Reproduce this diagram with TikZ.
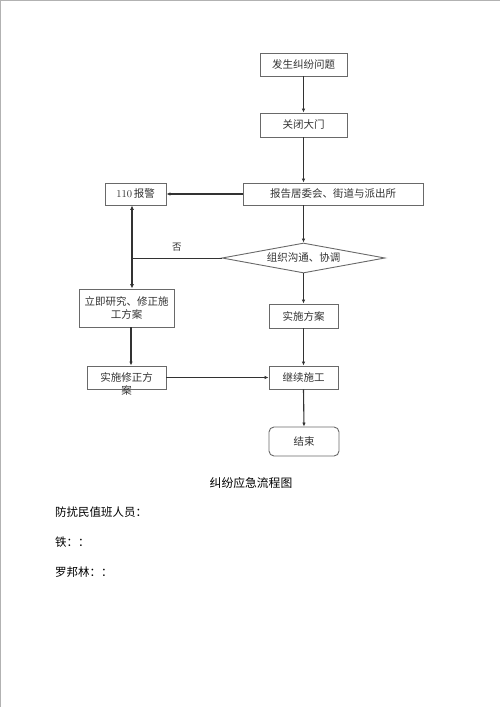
\documentclass[tikz,border=0pt]{standalone}
\usepackage{fontspec}
\usepackage{tikz}
\usetikzlibrary{shapes.geometric, arrows.meta}
\newfontfamily\cjk{Noto Sans CJK SC}
\definecolor{boxGray}{RGB}{105, 105, 105}
\definecolor{lineDark}{RGB}{50, 50, 50}

\begin{document}
\begin{tikzpicture}[x=1pt, y=-1pt,
    flowbox/.style={draw=boxGray, line width=0.9pt, inner sep=0pt, font=\cjk\fontsize{10.5}{13}\selectfont, text=lineDark},
    decision/.style={flowbox, diamond, aspect=5.4, minimum width=163pt, minimum height=30pt},
    flowarrow/.style={draw=lineDark, line width=1.1pt, -{Latex[length=4pt, width=3.5pt]}},
    notetext/.style={font=\cjk\fontsize{11.5}{14}\selectfont, inner sep=0pt, text=black}]
        \useasboundingbox (0,0) rectangle (500,707);
        \draw[gray!60, line width=1pt] (0.5,707) -- (0.5,0.5) -- (500,0.5);

        \node[flowbox, minimum width=87pt, minimum height=23pt] (fasheng) at (303.5,64.5) {发生纠纷问题};
        \node[flowbox, minimum width=87pt, minimum height=24pt] (guanbi) at (303.5,125) {关闭大门};
        \node[flowbox, minimum width=180pt, minimum height=22pt] (baogao) at (333,194) {报告居委会、街道与派出所};
        \node[flowbox, minimum width=61pt, minimum height=22pt] (baojing) at (135.5,194) {{\normalfont 110}\,报警};
        \node[decision] (zuzhi) at (303.5,258) {组织沟通、协调};
        \node[flowbox, minimum width=95pt, minimum height=38pt, align=center] (lijie) at (126.5,308) {立即研究、修正施\\工方案};
        \node[flowbox, minimum width=79pt, minimum height=23pt,
              label={[label distance=-4pt, inner sep=0pt, font=\cjk\fontsize{10.5}{13}\selectfont, text=lineDark]below:案}] (xiuzheng) at (126.5,377.5) {实施修正方};
        \node[flowbox, minimum width=69pt, minimum height=24pt] (shishi) at (303.5,316) {实施方案};
        \node[flowbox, minimum width=69pt, minimum height=23pt] (jixu) at (303.5,377.5) {继续施工};
        \node[flowbox, minimum width=70pt, minimum height=29pt, rounded corners=5pt] (jieshu) at (304,441.5) {结束};

        \coordinate (fou) at (132,258);

        \draw[flowarrow] (fasheng.south) -- (guanbi.north);
        \draw[flowarrow] (guanbi.south) -- (guanbi.south |- baogao.north);
        \draw[flowarrow] (baogao.west) -- (baojing.east);
        \draw[flowarrow] (guanbi.south |- baogao.south) -- (zuzhi.north);
        \draw[draw=lineDark, line width=0.9pt] (zuzhi.west) -- (fou)
            node[midway, above=3pt, font=\cjk\fontsize{9.5}{12}\selectfont, text=lineDark] {否};
        \draw[draw=lineDark, line width=1.8pt, {Latex[length=4.5pt, width=4pt]}-{Latex[length=4.5pt, width=4pt]}]
            (baojing.south -| fou) -- (lijie.north -| fou);
        \draw[flowarrow, line width=1.8pt] (lijie.south -| 131,0) -- (xiuzheng.north -| 131,0);
        \draw[flowarrow] (zuzhi.south) -- (shishi.north);
        \draw[flowarrow] (shishi.south) -- (jixu.north);
        \draw[flowarrow] (xiuzheng.east) -- (jixu.west);
        \draw[flowarrow] (jixu.south) -- (jieshu.north);

        \node[notetext, font=\cjk\fontsize{11.8}{14}\selectfont] (biaoti) at (251,483) {纠纷应急流程图};
        \node[notetext, anchor=west] (zhiban) at (55,512) {防扰民值班人员：};
        \node[notetext, anchor=west] (tie) at (55,542) {铁：：};
        \node[notetext, anchor=west] (luobanglin) at (55,572) {罗邦林：：};
\end{tikzpicture}
\end{document}
